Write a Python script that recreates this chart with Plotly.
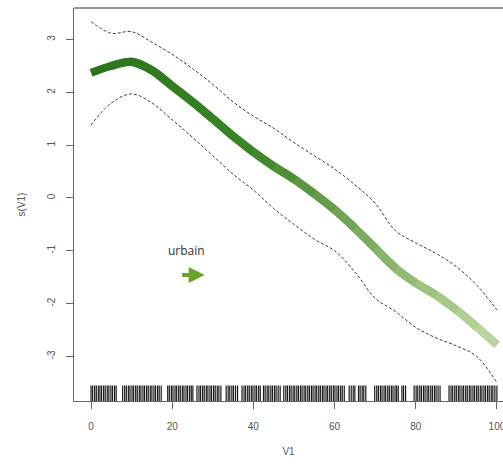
import plotly.graph_objects as go

# ---- data ----
v1 = [0, 5, 10, 15, 20, 25, 30, 35, 40, 45, 50, 55, 60, 65, 70, 75, 80, 85, 90, 95, 100]
fit = [2.37, 2.50, 2.58, 2.42, 2.12, 1.82, 1.50, 1.17, 0.87, 0.60, 0.36, 0.08, -0.22, -0.57,
       -0.95, -1.33, -1.61, -1.84, -2.12, -2.44, -2.78]
upper = [3.34, 3.12, 3.15, 2.95, 2.72, 2.45, 2.15, 1.82, 1.55, 1.32, 1.05, 0.80, 0.55, 0.25,
         -0.10, -0.62, -0.85, -1.05, -1.30, -1.65, -2.12]
lower = [1.38, 1.80, 1.97, 1.80, 1.48, 1.15, 0.80, 0.45, 0.15, -0.20, -0.50, -0.78, -1.00,
         -1.40, -1.90, -2.15, -2.45, -2.65, -2.80, -3.00, -3.50]
rug = [0.0, 0.4, 0.9, 1.3, 1.8, 2.2, 2.6, 3.1, 3.5, 4.0, 4.4, 4.9, 5.3, 5.8, 6.2,
       7.8, 8.3, 8.7, 9.2, 9.6, 10.1, 10.5, 11.0, 11.4, 11.9, 12.3, 12.8, 13.2, 13.7, 14.1,
       14.6, 15.0, 15.5, 15.9, 16.4, 16.8, 17.3,
       18.9, 19.3, 19.8, 20.2, 20.7, 21.1, 21.6, 22.0, 22.5, 22.9, 23.4, 23.8, 24.3, 24.7, 25.1,
       26.1, 26.6, 27.0, 27.5, 27.9, 28.4, 28.8, 29.3, 29.7, 30.2, 30.6, 31.1, 31.5, 32.0,
       33.3, 33.8, 34.2, 34.7, 35.1, 35.6, 36.1,
       37.2, 37.7, 38.1, 38.6, 39.0, 39.5, 39.9, 40.4, 40.8, 41.3, 41.7,
       42.5, 42.9, 43.4, 43.8, 44.3, 44.7, 45.2, 45.6, 46.1, 46.6,
       47.5, 48.0, 48.4, 48.9, 49.3, 49.8, 50.2, 50.7, 51.1, 51.6, 52.0, 52.5, 52.9, 53.4,
       53.8, 54.3, 54.7, 55.2, 55.6, 56.1, 56.5, 57.0, 57.4, 57.9, 58.3, 58.8, 59.2, 59.7,
       60.1, 60.6, 61.0, 61.5, 61.9, 62.4,
       63.6, 64.1, 64.6, 65.0,
       65.9, 66.3, 66.8, 67.2, 67.7,
       69.9, 70.4, 70.8, 71.3, 71.7, 72.2, 72.6, 73.1, 73.5, 74.0, 74.4, 74.9, 75.3, 75.7,
       76.6, 77.0, 77.5,
       79.6, 80.1, 80.5, 81.0, 81.4, 81.9, 82.3, 82.8, 83.2, 83.7, 84.1, 84.6, 85.0, 85.5, 86.0,
       88.2, 88.7, 89.1, 89.6, 90.0, 90.5, 90.9, 91.4, 91.8, 92.3, 92.7, 93.2, 93.6, 94.1,
       94.5, 95.0, 95.4, 95.9, 96.3, 96.8, 97.2, 97.7, 98.1, 98.6, 99.0, 99.5, 100.0]
x_ticks = [0, 20, 40, 60, 80, 100]
y_ticks = [-3, -2, -1, 0, 1, 2, 3]
x_title = "V1"
y_title = "s(V1)"
note_text = "urbain"

# ---- styling helpers ----
grad_stops = [(0, (42, 116, 26)), (40, (60, 134, 40)), (60, (108, 160, 80)),
              (80, (152, 192, 120)), (100, (190, 216, 162))]


def grad_color(v):
    for (a, ca), (b, cb) in zip(grad_stops[:-1], grad_stops[1:]):
        if a <= v <= b:
            t = (v - a) / (b - a)
            c = [round(ca[k] + (cb[k] - ca[k]) * t) for k in range(3)]
            return "rgb(%d,%d,%d)" % tuple(c)
    return "rgb(%d,%d,%d)" % grad_stops[-1][1]


fig = go.Figure()

band_style = dict(color="#3a3a3a", width=1, dash="3px,2px", shape="spline")
fig.add_trace(go.Scatter(x=v1, y=upper, mode="lines", line=band_style, hoverinfo="skip"))
fig.add_trace(go.Scatter(x=v1, y=lower, mode="lines", line=band_style, hoverinfo="skip"))

# fitted smooth: overlapping spline pieces so the colour can change along the curve
n = len(v1)
for j in range(n - 1):
    end = min(j + 4, n)
    mid = (v1[j] + v1[j + 1]) / 2
    fig.add_trace(go.Scatter(x=v1[j:end], y=fit[j:end], mode="lines",
                             line=dict(color=grad_color(mid), width=8, shape="spline"),
                             hoverinfo="skip"))

fig.add_trace(go.Scatter(x=rug, y=[-3.71] * len(rug), mode="markers",
                         marker=dict(symbol="line-ns-open", size=12, color="#1a1a1a",
                                     line=dict(color="#1a1a1a", width=1.2)),
                         hoverinfo="skip"))

axis_font = dict(family="Liberation Sans, Arial, sans-serif", size=10, color="#555")

fig.update_layout(
    width=503, height=464,
    margin=dict(l=74, r=0, t=8, b=63),
    paper_bgcolor="white", plot_bgcolor="white",
    showlegend=False,
    font=axis_font,
    xaxis=dict(range=[-4.19, 101.5], tickvals=x_ticks, ticktext=[str(t) for t in x_ticks],
               showgrid=False, zeroline=False, showline=True, linecolor="#666", linewidth=1,
               ticks="outside", ticklen=7, tickcolor="#666", tickfont=axis_font,
               ticklabelstandoff=9, ticklabeloverflow="allow", automargin=False,
               title=dict(text=x_title, font=axis_font, standoff=16)),
    yaxis=dict(range=[-3.845, 3.598], tickvals=y_ticks, ticktext=[str(t) for t in y_ticks],
               showgrid=False, zeroline=False, showline=True, linecolor="#666", linewidth=1,
               ticks="outside", ticklen=7, tickcolor="#666", tickfont=axis_font,
               tickangle=-90, ticklabelstandoff=7, automargin=False,
               title=dict(text=y_title, font=axis_font, standoff=18)),
    shapes=[dict(type="line", xref="paper", yref="paper", x0=0, x1=1, y0=1, y1=1,
                 line=dict(color="#777", width=1.5))],
    annotations=[
        dict(x=23.6, y=-1.0, xref="x", yref="y", text=note_text, showarrow=False,
             font=dict(family="Open Sans, sans-serif", size=12, color="#333")),
        dict(x=28.0, y=-1.46, xref="x", yref="y", ax=-24, ay=0, text="",
             showarrow=True, arrowhead=2, arrowsize=0.8, arrowwidth=4, arrowcolor="#6aa32a"),
    ],
)

fig.write_html("out.html", config={"displayModeBar": False},
               post_script="document.body.style.margin='0px';")
